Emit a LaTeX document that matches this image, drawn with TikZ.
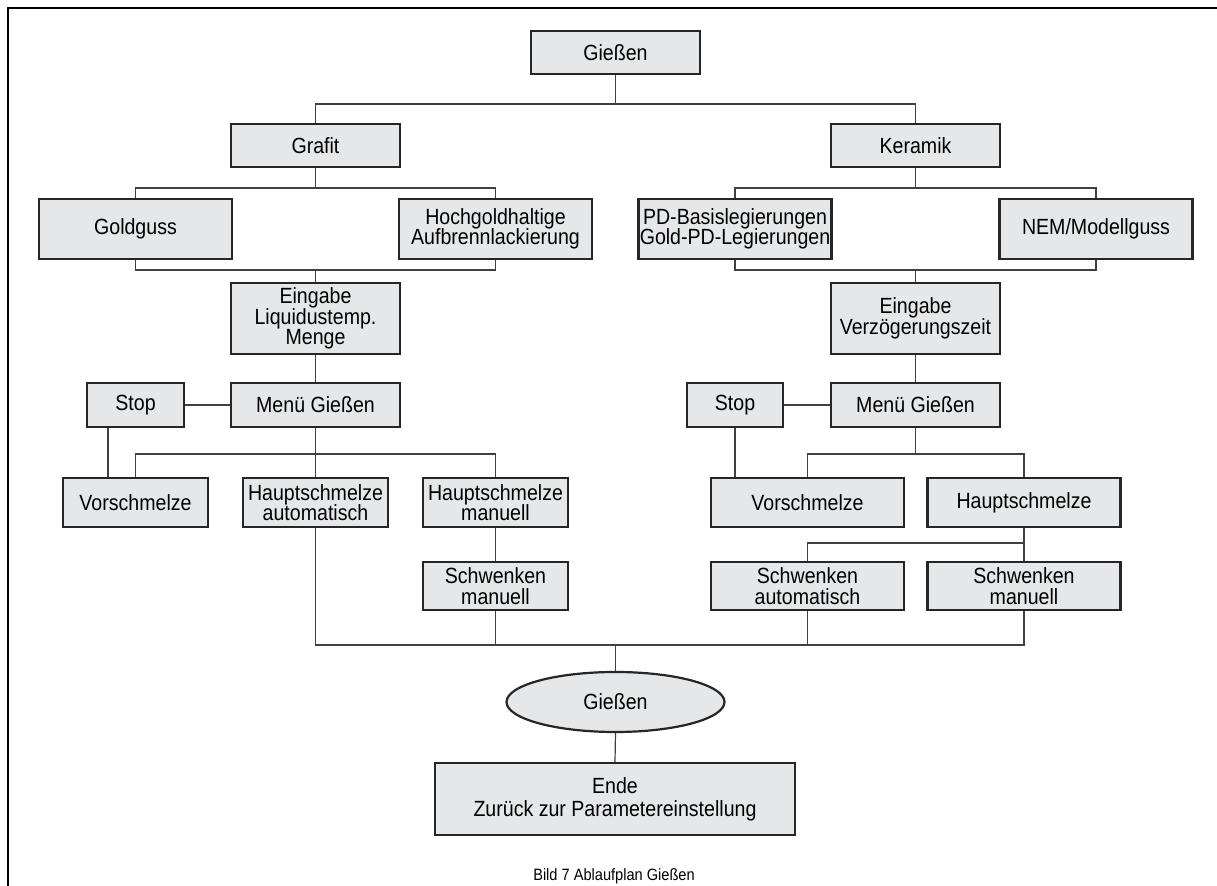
\documentclass[tikz,border=0pt]{standalone}
\usepackage{fontspec}
\setmainfont{Liberation Sans}[FakeStretch=0.89]
\usetikzlibrary{shapes.geometric}
\definecolor{boxgray}{HTML}{E6E7E8}
\begin{document}
\begin{tikzpicture}[x=0.5pt,y=-0.5pt,
  bx/.style={draw=black!85, line width=1.1pt, fill=boxgray, inner sep=0pt, align=center, font=\fontsize{11}{10.3}\selectfont},
  ln/.style={draw=black!75, line width=0.6pt},
  wA/.style={minimum width=84.5pt},
  wB/.style={minimum width=96.5pt},
  wC/.style={minimum width=72.5pt},
]
\useasboundingbox (0,0) rectangle (1217,886);
\draw[line width=1pt] (8,886) -- (8,8) -- (1217,8);

% top
\node[bx, wA, minimum height=21.5pt] (g0) at (615.5,52.5) {Gießen};
\node[bx, wA, minimum height=21.5pt] (gra) at (315.5,145.5) {Grafit};
\node[bx, wA, minimum height=21.5pt] (ker) at (915.5,145.5) {Keramik};

% left branch
\node[bx, wB, minimum height=30pt] (gold) at (135.5,229) {Goldguss};
\node[bx, wB, minimum height=30pt] (hoch) at (495.5,229) {Hochgoldhaltige\\Aufbrennlackierung};
\node[bx, wA, minimum height=35.5pt] (ein) at (315.5,318.5) {Eingabe\\Liquidustemp.\\Menge};
\node[bx, minimum width=48.5pt, minimum height=22pt] (stop) at (135.5,405) {Stop};
\node[bx, wA, minimum height=22pt] (men) at (315.5,405) {Menü Gießen};
\node[bx, wC, minimum height=24.5pt] (vor) at (135.5,502.5) {Vorschmelze};
\node[bx, wC, minimum height=24.5pt] (ha) at (315.5,502.5) {Hauptschmelze\\automatisch};
\node[bx, wC, minimum height=24.5pt] (hm) at (495.5,502.5) {Hauptschmelze\\manuell};
\node[bx, wC, minimum height=24pt] (swl) at (495.5,586) {Schwenken\\manuell};

% right branch
\node[bx, wB, minimum height=30pt] (pd) at (735,229) {PD-Basislegierungen\\Gold-PD-Legierungen};
\node[bx, wB, minimum height=30pt] (nem) at (1096,229) {NEM/Modellguss};
\node[bx, wA, minimum height=35.5pt] (einR) at (915.5,318.5) {Eingabe\\Verzögerungszeit};
\node[bx, minimum width=48pt, minimum height=22pt] (stopR) at (735,405) {Stop};
\node[bx, wA, minimum height=22pt] (menR) at (915.5,405) {Menü Gießen};
\node[bx, wB, minimum height=24.5pt] (vorR) at (807.5,502.5) {Vorschmelze};
\node[bx, wB, minimum height=24.5pt] (hR) at (1024,502.5) {Hauptschmelze};
\node[bx, wB, minimum height=24pt] (swa) at (807.5,586) {Schwenken\\automatisch};
\node[bx, wB, minimum height=24pt] (swm) at (1024,586) {Schwenken\\manuell};

% bottom
\node[bx, ellipse, inner sep=0pt, minimum width=109pt, minimum height=30pt] (ell) at (615.5,702) {Gießen};
\node[bx, minimum width=180pt, minimum height=36pt, font=\fontsize{11}{11.5}\selectfont] (ende) at (615,799) {Ende\\Zurück zur Parametereinstellung};
\node[font=\fontsize{8.2}{9}\selectfont, inner sep=0pt] (cap) at (614,876) {Bild 7 Ablaufplan Gießen};

% junctions
\coordinate (j1) at (615.5,104);
\coordinate (jL1) at (315.5,188);
\coordinate (jL2) at (315.5,270);
\coordinate (jL3) at (315.5,454);
\coordinate (jR1) at (915.5,188);
\coordinate (jR2) at (915.5,270);
\coordinate (jR3) at (915.5,454);
\coordinate (jR4) at (1024,543);
\coordinate (jB) at (615.5,645);

% connectors top
\draw[ln] (g0.south) -- (j1);
\draw[ln] (j1) -| (gra.north);
\draw[ln] (j1) -| (ker.north);

% left connectors
\draw[ln] (gra.south) -- (jL1);
\draw[ln] (jL1) -| (gold.north);
\draw[ln] (jL1) -| (hoch.north);
\draw[ln] (gold.south) |- (jL2);
\draw[ln] (hoch.south) |- (jL2);
\draw[ln] (jL2) -- (ein.north);
\draw[ln] (ein.south) -- (men.north);
\draw[ln] (stop.east) -- (men.west);
\draw[ln] (men.south) -- (ha.north);
\draw[ln] (jL3) -| (vor.north);
\draw[ln] (jL3) -| (hm.north);
\draw[ln] ([xshift=-13.75pt]stop.south) -- ([xshift=-13.75pt]stop.south |- vor.north);
\draw[ln] (hm.south) -- (swl.north);

% right connectors
\draw[ln] (ker.south) -- (jR1);
\draw[ln] (jR1) -| (pd.north);
\draw[ln] (jR1) -| (nem.north);
\draw[ln] (pd.south) |- (jR2);
\draw[ln] (nem.south) |- (jR2);
\draw[ln] (jR2) -- (einR.north);
\draw[ln] (einR.south) -- (menR.north);
\draw[ln] (stopR.east) -- (menR.west);
\draw[ln] (stopR.south) -- (stopR.south |- vorR.north);
\draw[ln] (menR.south) -- (jR3);
\draw[ln] (jR3) -| (vorR.north);
\draw[ln] (jR3) -| (hR.north);
\draw[ln] (hR.south) -- (jR4);
\draw[ln] (jR4) -| (swa.north);
\draw[ln] (jR4) -- (swm.north);

% bottom connectors
\draw[ln] (ha.south) |- (jB);
\draw[ln] (swl.south) |- (jB);
\draw[ln] (swa.south) |- (jB);
\draw[ln] (swm.south) |- (jB);
\draw[ln] (jB) -- (ell.north);
\draw[ln] (ell.south) -- (ende.north);
\end{tikzpicture}
\end{document}
